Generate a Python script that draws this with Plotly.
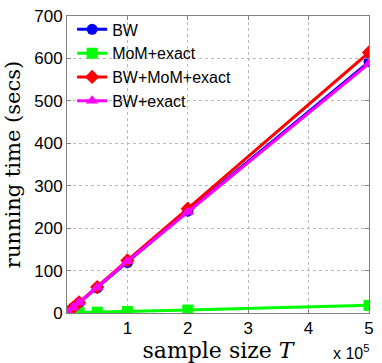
import plotly.graph_objects as go

T = [1e3, 1e4, 2e4, 5e4, 1e5, 2e5, 5e5]
bw = [1.2, 12, 24, 59, 119, 240, 592]
mom_exact = [0.3, 0.6, 1.0, 2.0, 3.5, 7, 18]
bw_mom_exact = [1.3, 12.5, 25, 61, 124, 246, 614]
bw_exact = [1.2, 12.2, 25, 60, 122, 238, 588]

y_ticks = [0, 100, 200, 300, 400, 500, 600, 700]
x_tickvals = [1e5, 2e5, 3e5, 4e5, 5e5]
x_ticktext = ["1", "2", "3", "4", "5"]

series = [
    ("BW", bw, "#0000FF", "circle"),
    ("MoM+exact", mom_exact, "#00FF00", "square"),
    ("BW+MoM+exact", bw_mom_exact, "#FF0000", "diamond"),
    ("BW+exact", bw_exact, "#FF00FF", "triangle-up"),
]

fig = go.Figure()
for name, vals, color, sym in series:
    fig.add_trace(go.Scatter(
        x=T, y=vals, name=name, mode="lines+markers",
        line=dict(color=color, width=3),
        marker=dict(color=color, symbol=sym, size=11, line=dict(width=0)),
    ))

axis_common = dict(
    showline=True, linecolor="#808080", linewidth=1, mirror="ticks",
    ticks="inside", ticklen=4, tickcolor="#808080",
    showgrid=True, gridcolor="#b8b8b8", griddash="dot", gridwidth=1,
    zeroline=False, automargin=False, ticklabeloverflow="allow",
    tickfont=dict(family="Liberation Sans, Arial", size=17, color="black"),
)

fig.update_layout(
    width=382, height=363,
    margin=dict(l=67, r=13, t=12, b=50),
    paper_bgcolor="white", plot_bgcolor="white",
    showlegend=True,
    legend=dict(x=0.017, y=1.012, xanchor="left", yanchor="top",
                bgcolor="rgba(255,255,255,0)", borderwidth=0,
                font=dict(family="Liberation Sans, Arial", size=16, color="black"),
                tracegroupgap=0, itemwidth=30),
    xaxis=dict(range=[0, 5e5], tickvals=x_tickvals, ticktext=x_ticktext,
               title=dict(text="sample size <i>T</i>", standoff=1,
                          font=dict(family="DejaVu Serif", size=22, color="black")),
               **axis_common),
    yaxis=dict(range=[0, 700], tickvals=y_ticks,
               title=dict(text="running time (secs)", standoff=7,
                          font=dict(family="DejaVu Serif", size=21, color="black")),
               **axis_common),
    annotations=[dict(text="x 10<sup>5</sup>", xref="paper", yref="paper",
                      x=1.005, y=-0.13, xanchor="right", yanchor="middle", showarrow=False,
                      font=dict(family="Liberation Sans, Arial", size=16, color="black"))],
)

fig.write_html("out.html", config={"displayModeBar": False},
               post_script="document.body.style.margin='0';")
